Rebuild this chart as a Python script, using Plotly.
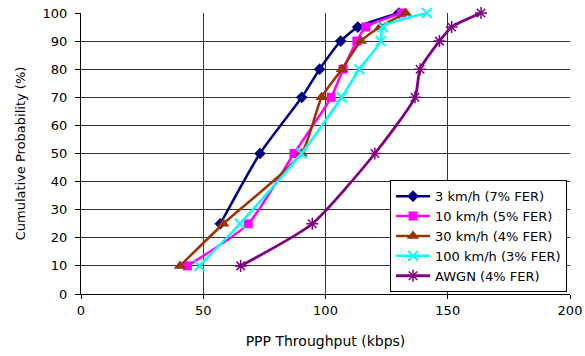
import plotly.graph_objects as go

series_names = ["3 km/h (7% FER)", "10 km/h (5% FER)", "30 km/h (4% FER)",
                "100 km/h (3% FER)", "AWGN (4% FER)"]

y_3 = [25, 50, 70, 80, 90, 95, 100]
x_3 = [57, 73.2, 90.3, 97.6, 106.2, 113.2, 130]

y_10 = [10, 25, 50, 70, 80, 90, 95, 100]
x_10 = [43.5, 68.4, 87.1, 102.3, 107.2, 112.8, 116.5, 131.1]

y_30 = [10, 25, 50, 70, 80, 90, 95, 100]
x_30 = [40.5, 58.2, 90.2, 98.4, 106.7, 114.5, 122.3, 132.8]

y_100 = [10, 25, 50, 70, 80, 90, 95, 100]
x_100 = [48.4, 65, 90.2, 106.6, 113.8, 122.6, 123.3, 141.4]

y_awgn = [10, 25, 50, 70, 80, 90, 95, 100]
x_awgn = [65.3, 94.6, 120.2, 136.6, 138.7, 146.6, 151.6, 163.6]

x_ticks = [0, 50, 100, 150, 200]
y_ticks = [0, 10, 20, 30, 40, 50, 60, 70, 80, 90, 100]

styles = [
    dict(color="#000080", symbol="diamond", size=9, mlw=0, lw=2.5),
    dict(color="#FF00FF", symbol="square", size=9, mlw=0, lw=2.5),
    dict(color="#993300", symbol="triangle-up", size=11, mlw=0, lw=2.5),
    dict(color="#00FFFF", symbol="x-thin", size=10, mlw=2, lw=2.5),
    dict(color="#800080", symbol="asterisk", size=10, mlw=1.5, lw=2.8),
]

data = [(x_3, y_3), (x_10, y_10), (x_30, y_30), (x_100, y_100), (x_awgn, y_awgn)]

fig = go.Figure()
for name, (xs, ys), st in zip(series_names, data, styles):
    fig.add_trace(go.Scatter(
        x=xs, y=ys, name=name, mode="lines+markers", cliponaxis=False,
        line=dict(color=st["color"], width=st["lw"], shape="spline", smoothing=0.6),
        marker=dict(symbol=st["symbol"], size=st["size"], color=st["color"],
                    line=dict(color=st["color"], width=st["mlw"])),
    ))

fam = "DejaVu Sans, Liberation Sans, Arial, sans-serif"
tick_font = dict(family=fam, size=13, color="#000")

fig.update_layout(
    width=585, height=356,
    margin=dict(l=81, r=15, t=13, b=62),
    paper_bgcolor="white", plot_bgcolor="white",
    font=tick_font,
    showlegend=True,
    legend=dict(x=0.632, y=0.405, xanchor="left", yanchor="top",
                bgcolor="white", bordercolor="#000", borderwidth=1,
                font=dict(family=fam, size=13, color="#000"),
                tracegroupgap=0, itemwidth=34),
)
fig.update_xaxes(
    range=[0, 200], tickvals=x_ticks, ticktext=[str(v) for v in x_ticks],
    tickfont=tick_font, automargin=False,
    showgrid=True, gridcolor="#333", gridwidth=1,
    showline=True, linecolor="#000", linewidth=1,
    ticks="outside", ticklen=4, tickcolor="#000",
    zeroline=False,
    title=dict(text="PPP Throughput (kbps)", font=dict(family=fam, size=14, color="#000"),
               standoff=19),
)
fig.update_yaxes(
    range=[0, 100], tickvals=y_ticks, ticktext=[str(v) for v in y_ticks],
    tickfont=tick_font, automargin=False, ticklabelstandoff=5,
    showgrid=True, gridcolor="#333", gridwidth=1,
    showline=True, linecolor="#000", linewidth=1,
    ticks="outside", ticklen=5, tickcolor="#000",
    zeroline=False,
    title=dict(text="Cumulative Probability (%)", font=dict(family=fam, size=13, color="#000"),
               standoff=14),
)

fig.write_html("out.html")
